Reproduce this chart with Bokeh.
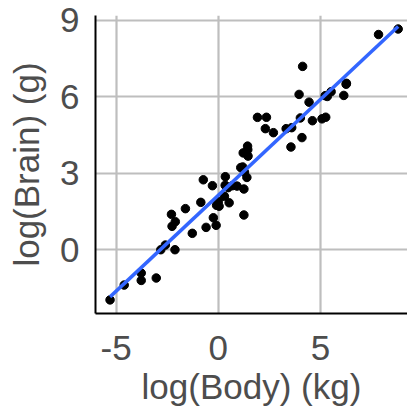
import numpy as np
from bokeh.plotting import figure
from bokeh.models import FixedTicker, Range1d
from bokeh.embed import file_html
from bokeh.resources import INLINE

# MASS::mammals — body weight (kg) and brain weight (g)
body = [3.385, 0.480, 1.350, 465.0, 36.33, 27.66, 14.83, 1.040, 4.190, 0.425,
        0.101, 0.920, 1.000, 0.005, 0.060, 3.500, 2.000, 1.700, 2547.0, 0.023,
        187.1, 521.0, 0.785, 10.00, 3.300, 0.200, 1.410, 529.0, 207.0, 85.00,
        0.750, 62.00, 6654.0, 3.500, 6.800, 35.00, 4.050, 0.120, 0.023, 0.010,
        1.400, 250.0, 2.500, 55.50, 100.0, 52.16, 10.55, 0.550, 60.00, 3.600,
        4.288, 0.280, 0.075, 0.122, 0.048, 192.0, 3.000, 160.0, 0.900, 1.620,
        0.104, 4.235]
brain = [44.5, 15.5, 8.1, 423.0, 119.5, 115.0, 98.2, 5.5, 58.0, 6.4,
         4.0, 5.7, 6.6, 0.14, 1.0, 10.8, 12.3, 6.3, 4603.0, 0.3,
         419.0, 655.0, 3.5, 115.0, 25.6, 5.0, 17.5, 680.0, 406.0, 325.0,
         12.3, 1320.0, 5712.0, 3.9, 179.0, 56.0, 17.0, 1.0, 0.4, 0.25,
         12.5, 490.0, 12.1, 175.0, 157.0, 440.0, 179.5, 2.4, 81.0, 21.0,
         39.2, 1.9, 1.2, 3.0, 0.33, 180.0, 25.0, 169.0, 2.6, 11.4,
         2.5, 50.4]
x_ticks = [-5, 0, 5]
x_tick_labels = ["-5", "0", "5"]
y_ticks = [0, 3, 6, 9]
y_tick_labels = ["0", "3", "6", "9"]

lx = np.log(np.array(body))
ly = np.log(np.array(brain))
slope, intercept = np.polyfit(lx, ly, 1)
fx = np.array([lx.min(), lx.max()])
fy = intercept + slope * fx

FONT = "Liberation Sans"
TICK_COL = "#4D4D4D"
TITLE_COL = "#4D4D4D"

p = figure(width=407, height=410, output_backend="svg", toolbar_location=None,
           x_range=Range1d(-6.01, 9.26), y_range=Range1d(-2.5, 9.18),
           min_border_left=95, min_border_right=0, min_border_top=15,
           min_border_bottom=97)
p.outline_line_color = None
p.background_fill_color = "white"
p.border_fill_color = "white"

p.scatter(lx, ly, size=8.5, color="black")
p.line(fx, fy, line_color="#3366FF", line_width=3.5)

for ax in (p.xaxis[0], p.yaxis[0]):
    ax.axis_line_color = "black"
    ax.axis_line_width = 2
    ax.major_tick_in = 0
    ax.major_tick_out = 0
    ax.minor_tick_in = 0
    ax.minor_tick_out = 0
    ax.major_label_text_font = FONT
    ax.major_label_text_font_size = "35px"
    ax.major_label_text_color = TICK_COL
    ax.axis_label_text_font = FONT
    ax.axis_label_text_font_size = "35px"
    ax.axis_label_text_font_style = "normal"
    ax.axis_label_text_color = TITLE_COL

p.xaxis.ticker = FixedTicker(ticks=x_ticks)
p.yaxis.ticker = FixedTicker(ticks=y_ticks)
p.xaxis.major_label_overrides = dict(zip(x_ticks, x_tick_labels))
p.yaxis.major_label_overrides = dict(zip(y_ticks, y_tick_labels))
p.xaxis.axis_label = "log(Body) (kg)"
p.yaxis.axis_label = "log(Brain) (g)"
p.xaxis.major_label_standoff = 22
p.yaxis.major_label_standoff = 16
p.xaxis.axis_label_standoff = 4
p.yaxis.axis_label_standoff = 11

for g in (p.xgrid[0], p.ygrid[0]):
    g.grid_line_color = "#BEBEBE"
    g.grid_line_width = 2.2
p.xgrid.ticker = FixedTicker(ticks=x_ticks)
p.ygrid.ticker = FixedTicker(ticks=y_ticks)

open("out.html", "w").write(file_html(p, INLINE))
